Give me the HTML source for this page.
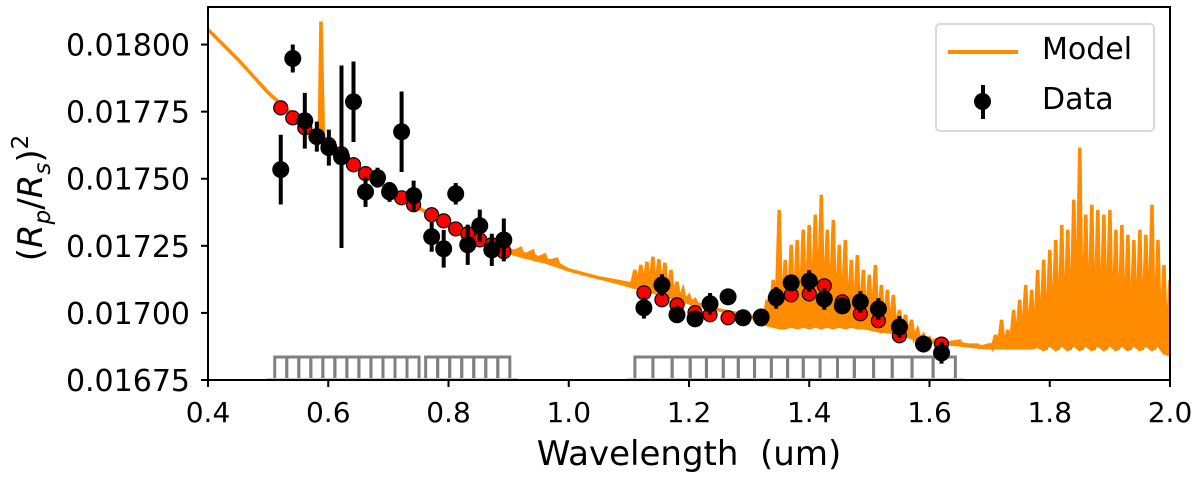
<!DOCTYPE html>
<html><head><meta charset="utf-8"><style>
body{margin:0;background:#fff}
svg{display:block;font-family:"DejaVu Sans","Liberation Sans",sans-serif}
</style></head><body>
<svg id="chart" width="1200" height="482" viewBox="0 0 1200 482">
<g id="plot"></g>
</svg>
<script>
const xTicks=[0.4,0.6,0.8,1.0,1.2,1.4,1.6,1.8,2.0];
const xTickLabels=["0.4","0.6","0.8","1.0","1.2","1.4","1.6","1.8","2.0"];
const yTicks=[0.01675,0.01700,0.01725,0.01750,0.01775,0.01800];
const yTickLabels=["0.01675","0.01700","0.01725","0.01750","0.01775","0.01800"];
const dataWave=[0.521,0.541,0.561,0.581,0.601,0.622,0.642,0.662,0.682,0.702,0.722,0.742,0.772,0.792,0.812,0.832,0.852,0.872,0.892,
1.125,1.155,1.18,1.21,1.235,1.265,1.29,1.32,1.345,1.37,1.40,1.425,1.455,1.485,1.515,1.55,1.59,1.62];
const dataDepth=[0.017534,0.017948,0.017716,0.017657,0.017616,0.017582,0.017787,0.017451,0.017504,0.017451,0.017675,0.017437,0.017284,0.017239,0.017444,0.017254,0.017325,0.017235,0.017272,
0.017019,0.017104,0.016993,0.016978,0.017034,0.017060,0.016982,0.016985,0.017056,0.017112,0.017119,0.017052,0.017026,0.017041,0.017015,0.016948,0.016884,0.016851];
const dataErr=[0.00013,0.000052,0.000104,0.000056,0.000067,0.00034,0.00015,0.000056,0.000037,0.000037,0.00015,0.000056,0.000056,0.00007,0.00004,0.000075,0.00006,0.00006,0.00008,
0.00004,0.00004,0.00003,0.00003,0.00004,0.00003,0.00003,0.00003,0.00004,0.00003,0.00004,0.00004,0.00003,0.00004,0.00004,0.00004,0.00003,0.00004];
const binModel=[0.017764,0.017727,0.017690,0.017660,0.017627,0.017593,0.017552,0.017519,0.017496,0.017459,0.017429,0.017403,0.017366,0.017343,0.017313,0.017295,0.017272,0.017254,0.017228,
0.017075,0.017049,0.017030,0.017001,0.016993,0.016982,0.016982,0.016978,0.017064,0.017067,0.017071,0.017101,0.017041,0.016997,0.016971,0.016915,0.016884,0.016884];
const binEdges1=[0.511,0.531,0.551,0.571,0.591,0.611,0.631,0.651,0.671,0.691,0.711,0.731,0.751];
const binEdges2=[0.762,0.782,0.802,0.822,0.842,0.862,0.882,0.902];
const binEdges3=[1.11,1.14,1.172,1.202,1.229,1.257,1.282,1.309,1.337,1.364,1.39,1.418,1.447,1.475,1.507,1.538,1.571,1.606,1.643];
const modelWave=[0.40,0.45,0.50,0.55,0.585,0.588,0.591,0.60,0.65,0.70,0.75,0.80,0.85,0.90,0.92,0.94,0.96,0.98,1.00,1.05,
1.10,1.11,1.12,1.13,1.14,1.15,1.16,1.17,1.18,1.19,1.20,1.21,1.22,1.25,1.30,
1.32,1.33,1.34,1.35,1.36,1.37,1.38,1.39,1.40,1.41,1.42,1.43,1.44,1.45,1.46,1.47,1.48,1.49,1.50,1.51,1.52,1.53,1.54,1.55,1.56,1.57,1.58,1.59,1.60,1.61,1.62,
1.65,1.68,
1.70,1.71,1.72,1.73,1.74,1.75,1.76,1.77,1.78,1.79,1.80,1.81,1.82,1.83,1.84,1.85,1.86,1.87,1.88,1.89,1.90,1.91,1.92,1.93,1.94,1.95,1.96,1.97,1.98,1.99,2.00];
const modelHigh=[0.018056,0.017944,0.017821,0.01772,0.017650,0.018086,0.017640,0.017623,0.017534,0.017459,0.017392,0.017328,0.017272,0.017250,0.017240,0.017230,0.017215,0.017200,0.01716,0.017131,
0.01711,0.01716,0.017179,0.01719,0.017209,0.0172,0.017187,0.01716,0.017116,0.017086,0.017063,0.017049,0.01703,0.017011,0.016989,
0.016974,0.017049,0.017123,0.017384,0.017198,0.017254,0.017272,0.01731,0.017328,0.017366,0.01744,0.01731,0.017347,0.017254,0.017272,0.017198,0.017216,0.01716,0.017142,0.017179,0.017104,0.017086,0.017067,0.017011,0.016993,0.016974,0.016937,0.016918,0.016907,0.016899,0.016899,
0.016895,0.016880,
0.016881,0.016918,0.016974,0.016937,0.017011,0.017049,0.017104,0.017086,0.01716,0.017198,0.017235,0.017272,0.017328,0.01731,0.017422,0.017616,0.017366,0.017403,0.017384,0.017366,0.017384,0.01731,0.017328,0.017291,0.017272,0.01731,0.017291,0.017403,0.017272,0.017179,0.017123];
const modelLow=[0.018056,0.017944,0.017821,0.01772,0.017650,0.017640,0.017635,0.017623,0.017534,0.017459,0.017392,0.017328,0.017272,0.017224,0.017212,0.017200,0.017190,0.017175,0.01716,0.017131,
0.017101,0.017095,0.017089,0.017083,0.017077,0.017071,0.017064,0.017057,0.017050,0.017044,0.017037,0.017032,0.017028,0.017011,0.016989,
0.016966,0.016955,0.016950,0.016944,0.016944,0.016950,0.016944,0.016950,0.016944,0.016950,0.016944,0.016950,0.016944,0.016950,0.016944,0.016950,0.016944,0.016944,0.016940,0.016935,0.016930,0.016930,0.016925,0.016920,0.016915,0.016907,0.016900,0.016895,0.016890,0.016888,0.016886,
0.016880,0.016872,
0.016869,0.016869,0.016869,0.016869,0.016869,0.016869,0.016869,0.016869,0.016875,0.016862,0.016881,0.016862,0.016881,0.016862,0.016881,0.016862,0.016881,0.016862,0.016881,0.016862,0.016881,0.016862,0.016881,0.016862,0.016881,0.016862,0.016881,0.016862,0.016881,0.016850,0.016843];

const X0=208,X1=1170,Y0=380,Y1=7;
const xMin=0.4,xMax=2.0,yMin=0.01675,yMax=0.01814;
function sx(v){return X0+(v-xMin)/(xMax-xMin)*(X1-X0);}
function sy(v){return Y0-(v-yMin)/(yMax-yMin)*(Y0-Y1);}
const NS="http://www.w3.org/2000/svg";
const g=document.getElementById('plot');
function mk(tag,attrs,parent){const e=document.createElementNS(NS,tag);for(const k in attrs)e.setAttribute(k,attrs[k]);(parent||g).appendChild(e);return e;}

const defs=mk('defs',{});
const cp=mk('clipPath',{id:'clip'},defs);
mk('rect',{x:X0,y:Y1,width:X1-X0,height:Y0-Y1},cp);
const clipG=mk('g',{'clip-path':'url(#clip)'});



[binEdges1,binEdges2,binEdges3].forEach(function(edges,gi){
  const bg=mk('g',{},clipG);
  
  
  for(let i=0;i<edges.length-1;i++){
    const a=sx(edges[i]),b=sx(edges[i+1]);
    const r=mk('path',{d:`M${a},${Y0} V357 H${b} V${Y0}`,fill:'none',stroke:'#808080','stroke-width':3},bg);
    
    
  }
  const base=mk('line',{x1:sx(edges[0])-8,x2:sx(edges[edges.length-1])+8,y1:Y0-1,y2:Y0-1,stroke:'#c8c8c8','stroke-width':2},bg);
  
  
});

let topPath='',botPath='';
for(let i=0;i<modelWave.length;i++){
  const x=sx(modelWave[i]).toFixed(1);
  const mid=modelLow[i]+0.45*(modelHigh[i]-modelLow[i]);
  topPath+=(i?'L':'M')+x+','+sy(mid).toFixed(1);
}
for(let i=modelWave.length-1;i>=0;i--){
  botPath+='L'+sx(modelWave[i]).toFixed(1)+','+sy(modelLow[i]).toFixed(1);
}
const mf=mk('path',{d:topPath+botPath+'Z',fill:'#ff8c00',stroke:'#ff8c00','stroke-width':3,'stroke-linejoin':'round'},clipG);



let d='';
for(let i=0;i<modelWave.length;i++){
  const x=sx(modelWave[i]);
  d+=(i?'L':'M')+x.toFixed(1)+','+sy(modelHigh[i]).toFixed(1);
  if(modelLow[i]!==modelHigh[i]) d+='L'+(x+2.5).toFixed(1)+','+sy(modelLow[i]).toFixed(1);
}
const ml=mk('path',{d:d,fill:'none',stroke:'#ff8c00','stroke-width':3.5,'stroke-linejoin':'miter'},clipG);



binModel.forEach(function(v,i){
  const c=mk('circle',{cx:sx(dataWave[i]),cy:sy(v),r:7,fill:'#ff0000',stroke:'#000','stroke-width':1.2},clipG);
  
  
});
dataWave.forEach(function(w,i){
  const x=sx(w);
  const e=mk('line',{x1:x,x2:x,y1:sy(dataDepth[i]+dataErr[i]),y2:sy(dataDepth[i]-dataErr[i]),stroke:'#000','stroke-width':4},clipG);
  
  
  const c=mk('circle',{cx:x,cy:sy(dataDepth[i]),r:8.5,fill:'#000'},clipG);
  
  
});

const fr=mk('rect',{x:X0,y:Y1,width:X1-X0,height:Y0-Y1,fill:'none',stroke:'#000','stroke-width':2});



xTicks.forEach(function(t,i){
  const x=sx(t);
  const l=mk('line',{x1:x,x2:x,y1:Y0,y2:Y0+7,stroke:'#000','stroke-width':2});
  
  
  const tx=mk('text',{x:x,y:422,'text-anchor':'middle','font-size':28,fill:'#000'});
  tx.textContent=xTickLabels[i];
  
  
});
yTicks.forEach(function(t,i){
  const y=sy(t);
  const l=mk('line',{x1:X0-7,x2:X0,y1:y,y2:y,stroke:'#000','stroke-width':2});
  
  
  const tx=mk('text',{x:X0-18,y:y+11,'text-anchor':'end','font-size':30,fill:'#000'});
  tx.textContent=yTickLabels[i];
  
  
});

const xl=mk('text',{x:689,y:465,'text-anchor':'middle','font-size':34,fill:'#000',style:'white-space:pre'});
xl.textContent='Wavelength  (um)';


const yl=mk('text',{transform:'translate(42,198) rotate(-90)','text-anchor':'middle','font-size':34,fill:'#000'});
yl.innerHTML='(<tspan font-style="italic">R</tspan><tspan font-size="23" dy="8" font-style="italic">p</tspan><tspan dy="-8">/</tspan><tspan font-style="italic">R</tspan><tspan font-size="23" dy="8" font-style="italic">s</tspan><tspan dy="-8">)</tspan><tspan font-size="23" dy="-14">2</tspan>';


</script>
<div style="position:absolute;left:935px;top:23px;width:216px;height:105px;border:2px solid #d9d9d9;border-radius:5px;background:rgba(255,255,255,0.85);font-family:'DejaVu Sans','Liberation Sans',sans-serif;font-size:30px;">
 <div style="position:absolute;left:11px;top:25px;width:70px;height:4px;background:#ff8c00"></div>
 <div style="position:absolute;left:105px;top:7px">Model</div>
 <div style="position:absolute;left:44px;top:60px;width:4px;height:34px;background:#000"></div>
 <div style="position:absolute;left:37px;top:68px;width:17px;height:17px;border-radius:50%;background:#000"></div>
 <div style="position:absolute;left:105px;top:57px">Data</div>
</div>
</body></html>
